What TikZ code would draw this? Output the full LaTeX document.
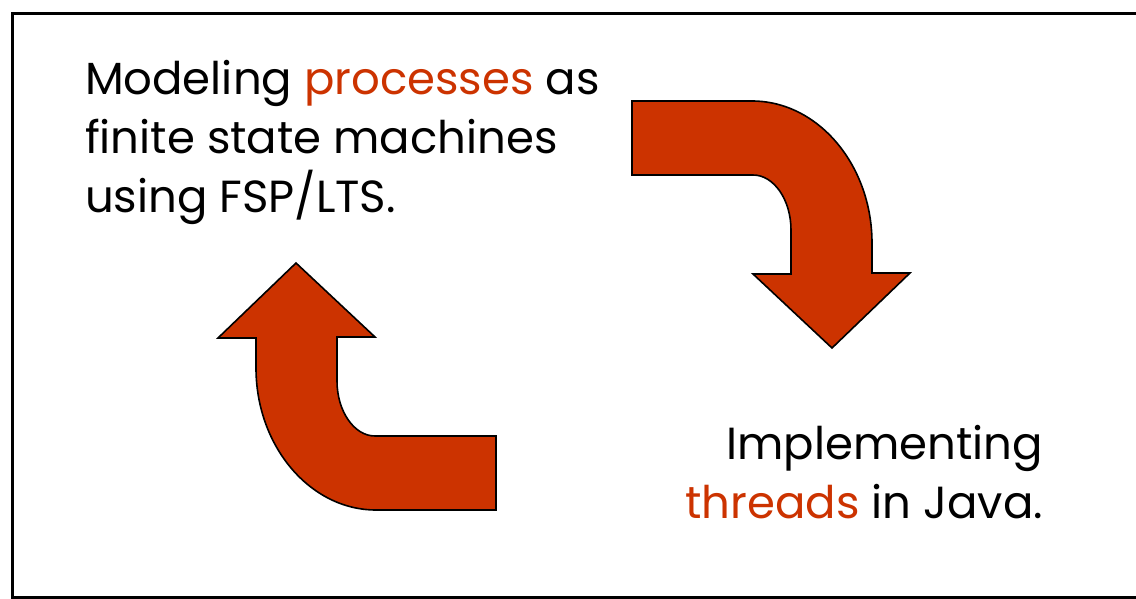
\documentclass[tikz,border=0pt]{standalone}
\usepackage{fontspec}
\setmainfont{Poppins}
\definecolor{rust}{RGB}{204,51,0}
\tikzset{
  bendarrow/.style={fill=rust, draw=black, line width=1.6pt, line join=miter},
  frame/.style={draw=black, line width=3pt},
  txt/.style={inner sep=0pt, outer sep=0pt, font=\fontsize{45}{54}\selectfont, text=black}
}
\begin{document}
\begin{tikzpicture}[x=1pt, y=-1pt]
  \useasboundingbox (0,0) rectangle (1136,599);
  \fill[white] (0,0) rectangle (1136,599);
  % outer frame (right side runs off the page)
  \draw[frame] (12,13.5) rectangle (1160,597.5);

  % bent arrow: from the modelling step down to the implementation step
  \path[bendarrow] (632,101) -- (752,101)
    .. controls (818,101) and (872,165) .. (872,243)
    -- (872,273) -- (910,273) -- (832,348) -- (753,274) -- (791,274)
    -- (791,230) .. controls (791,200) and (774,175) .. (753,175)
    -- (632,175) -- cycle;

  % the same arrow turned half round: back to the modelling step
  \begin{scope}[rotate around={180:(564,305.5)}]
    \path[bendarrow] (632,101) -- (752,101)
      .. controls (818,101) and (872,165) .. (872,243)
      -- (872,273) -- (910,273) -- (832,348) -- (753,274) -- (791,274)
      -- (791,230) .. controls (791,200) and (774,175) .. (753,175)
      -- (632,175) -- cycle;
  \end{scope}

  % modelling text
  \node[txt, anchor=base west] (m1) at (85,95) {Modeling \textcolor{rust}{processes} as};
  \node[txt, anchor=base west] (m2) at (85,153.5) {finite state machines};
  \node[txt, anchor=base west] (m3) at (85,212) {using FSP/LTS.};

  % implementation text
  \node[txt, anchor=base east] (i1) at (1043,459) {Implementing};
  \node[txt, anchor=base east] (i2) at (1043,518) {\textcolor{rust}{threads} in Java.};
\end{tikzpicture}
\end{document}
